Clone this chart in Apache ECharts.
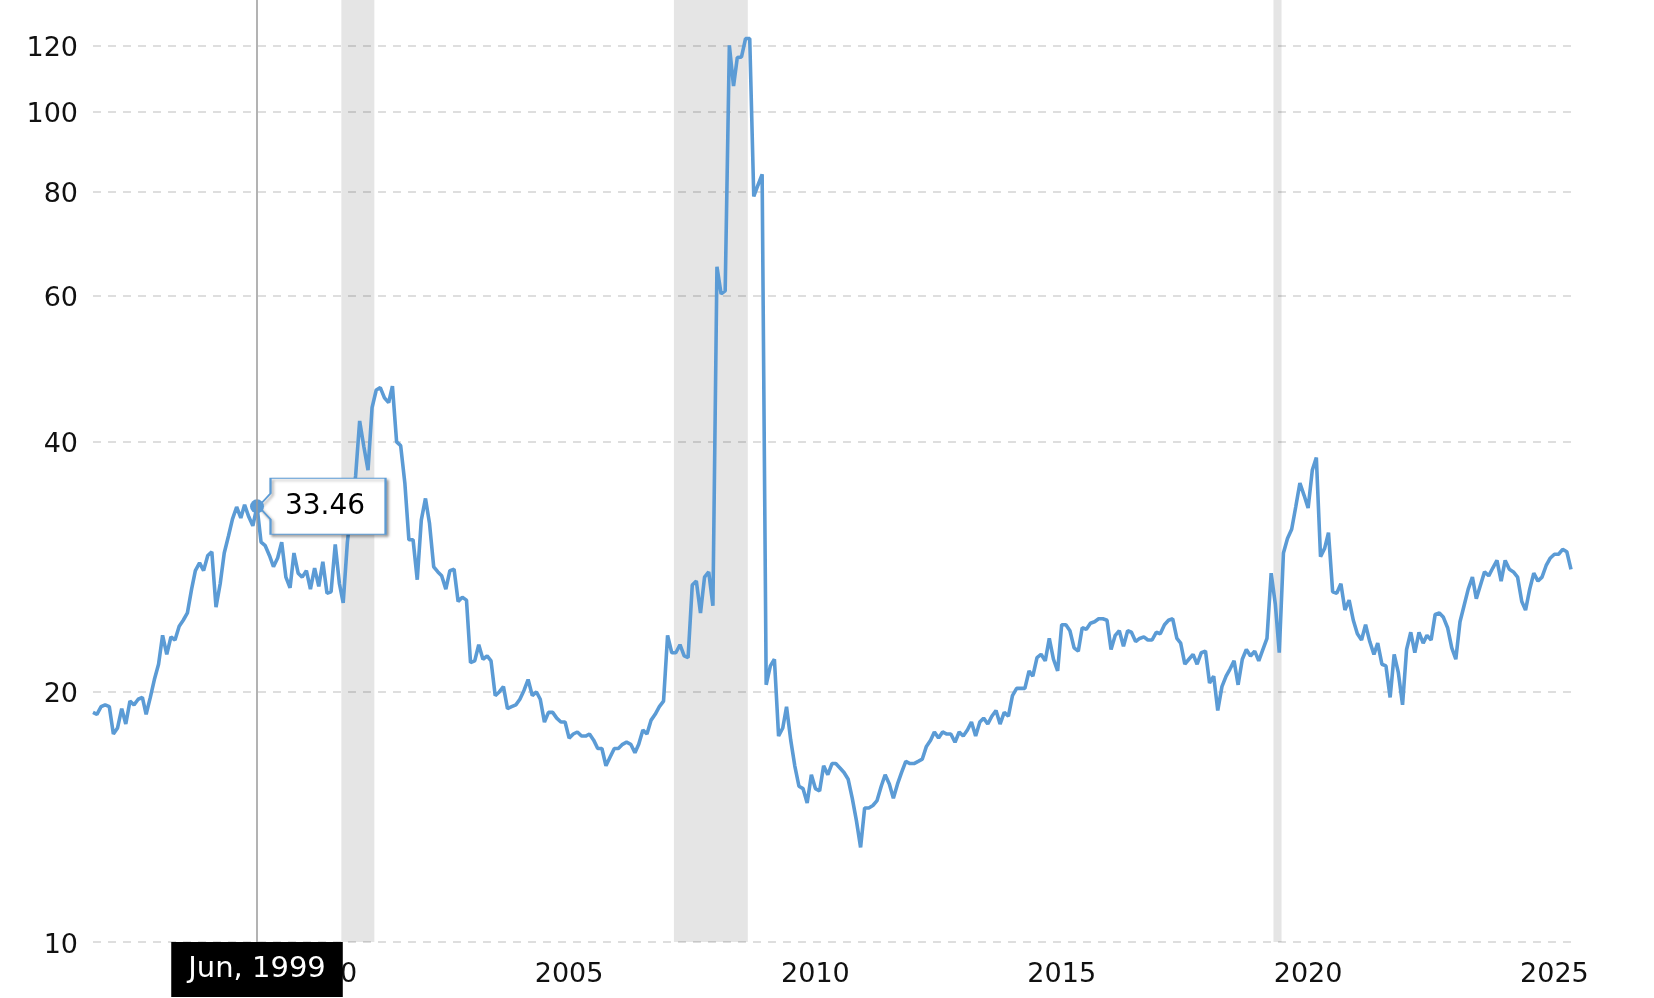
<!DOCTYPE html>
<html>
<head>
<meta charset="utf-8">
<script src="https://cdn.jsdelivr.net/npm/echarts@6/dist/echarts.min.js"></script>
<style>
html,body{margin:0;padding:0;background:#fff;}
#chart{width:1654px;height:998px;}
</style>
</head>
<body>
<div id="chart"></div>
<script>
// Monthly series, first point Feb 1996, last point Feb 2026
const startYear = 1996;
const startMonth = 2;
const peValues = [
  18.9,18.8,19.2,19.3,19.2,17.8,18.1,19.1,18.3,19.5,19.3,19.6,
  19.7,18.8,19.7,20.7,21.6,23.4,22.2,23.3,23.1,24.0,24.4,24.9,
  26.6,28.0,28.6,28.0,29.2,29.5,25.3,27.0,29.4,30.8,32.3,33.4,
  32.4,33.6,32.5,31.7,33.46,30.3,30.0,29.2,28.3,29.0,30.3,27.5,
  26.7,29.4,27.8,27.5,28.0,26.6,28.2,26.8,28.7,26.3,26.4,30.1,
  27.0,25.6,30.3,33.5,36.4,42.4,39.5,37.0,44.0,46.2,46.5,45.2,
  44.6,46.7,40.0,39.6,35.7,30.5,30.5,27.3,32.2,34.2,31.9,28.3,
  27.9,27.6,26.6,28.0,28.1,25.7,26.0,25.8,21.7,21.8,22.8,21.9,
  22.1,21.8,19.8,20.0,20.3,19.1,19.2,19.3,19.6,20.1,20.7,19.8,
  20.0,19.6,18.4,18.9,18.9,18.6,18.4,18.4,17.6,17.8,17.9,17.7,
  17.7,17.8,17.5,17.1,17.1,16.3,16.7,17.1,17.1,17.3,17.4,17.3,
  16.9,17.3,18.0,17.8,18.5,18.8,19.2,19.5,23.4,22.3,22.3,22.8,
  22.1,22.0,26.9,27.2,24.9,27.5,27.9,25.4,65.0,60.3,60.8,120.1,
  107.3,116.1,116.3,122.4,122.4,79.0,81.5,84.0,20.4,21.5,21.9,17.7,
  18.1,19.2,17.5,16.3,15.4,15.3,14.7,15.9,15.3,15.2,16.3,15.9,
  16.4,16.4,16.2,16.0,15.7,14.9,14.0,13.0,14.5,14.5,14.6,14.8,
  15.4,15.9,15.5,14.9,15.5,16.0,16.5,16.4,16.4,16.5,16.6,17.2,
  17.5,17.9,17.6,17.9,17.8,17.8,17.4,17.9,17.7,18.0,18.4,17.7,
  18.4,18.6,18.3,18.7,19.0,18.3,18.9,18.7,19.8,20.2,20.2,20.2,
  21.2,20.9,22.0,22.2,21.8,23.2,21.9,21.2,24.1,24.1,23.7,22.6,
  22.4,23.9,23.8,24.2,24.3,24.5,24.5,24.4,22.5,23.4,23.7,22.7,
  23.7,23.6,23.0,23.2,23.3,23.1,23.1,23.6,23.5,24.1,24.4,24.5,
  23.2,22.9,21.6,21.9,22.2,21.6,22.3,22.4,20.5,20.9,19.0,20.3,
  20.9,21.3,21.8,20.4,21.9,22.5,22.1,22.4,21.8,22.5,23.2,27.8,
  25.5,22.3,29.4,30.6,31.4,33.4,35.7,34.5,33.3,37.0,38.3,29.1,
  29.8,31.1,26.4,26.3,27.0,25.1,25.8,24.4,23.5,23.1,24.1,23.0,
  22.2,22.9,21.6,21.5,19.7,22.2,21.1,19.3,22.5,23.6,22.3,23.6,
  22.9,23.4,23.1,24.8,24.9,24.6,23.9,22.6,21.9,24.3,25.4,26.6,
  27.5,25.9,26.9,27.9,27.6,28.2,28.8,27.2,28.8,28.1,27.9,27.5,
  25.7,25.1,26.6,27.8,27.2,27.5,28.4,29.0,29.3,29.3,29.7,29.5,
  28.1
];
const yTicks = [10, 20, 40, 60, 80, 100, 120];
const yearLabels = [2000, 2005, 2010, 2015, 2020, 2025];
// recessions: [startYear, startMonth, endYear, endMonth]
const recessions = [
  [2001, 3, 2001, 11],
  [2007, 12, 2009, 6],
  [2020, 2, 2020, 4]
];
const highlightIndex = 40; // Jun, 1999
const monthNames = ['Jan','Feb','Mar','Apr','May','Jun','Jul','Aug','Sep','Oct','Nov','Dec'];

const dates = peValues.map(function (v, k) {
  const m = startMonth - 1 + k;
  return Date.UTC(startYear + Math.floor(m / 12), m % 12, 15);
});
const seriesData = dates.map(function (d, k) { return [d, peValues[k]]; });
const yearTickTimes = yearLabels.map(function (y) { return Date.UTC(y, 9, 15); });
const recessionAreas = recessions.map(function (r) {
  return [{ xAxis: Date.UTC(r[0], r[1] - 1, 1) }, { xAxis: Date.UTC(r[2], r[3] - 1, 1) }];
});

const FONT = 'DejaVu Sans';
const BLUE = '#5b9bd5';

const chart = echarts.init(document.getElementById('chart'), null, { renderer: 'canvas' });
chart.setOption({
  animation: false,
  backgroundColor: '#ffffff',
  textStyle: { fontFamily: FONT },
  grid: { left: 93, right: 83, top: 0, bottom: 56, containLabel: false, outerBoundsMode: 'none' },
  xAxis: {
    type: 'value',
    scale: true,
    min: dates[0],
    max: dates[dates.length - 1],
    axisLine: { show: false },
    axisTick: { show: false },
    splitLine: { show: false },
    axisLabel: {
      customValues: yearTickTimes,
      formatter: function (v) { return String(new Date(v).getUTCFullYear()); },
      fontSize: 27,
      fontFamily: FONT,
      color: '#111',
      margin: 19,
      hideOverlap: false
    },
    axisPointer: {
      show: true,
      type: 'line',
      snap: false,
      triggerTooltip: false,
      status: 'show',
      value: dates[highlightIndex],
      lineStyle: { color: '#9a9a9a', width: 1.5, type: 'solid' },
      label: {
        show: true,
        formatter: function (p) {
          const d = new Date(p.value);
          return monthNames[d.getUTCMonth()] + ', ' + d.getUTCFullYear();
        },
        backgroundColor: '#000',
        color: '#fff',
        fontSize: 29,
        fontFamily: FONT,
        padding: [13, 17, 13, 17],
        margin: 0,
        borderRadius: 0,
        shadowBlur: 0
      }
    }
  },
  yAxis: {
    type: 'log',
    logBase: 10,
    min: 10,
    max: 136.2,
    axisLine: { show: false },
    axisTick: { show: false, customValues: yTicks },
    axisLabel: {
      customValues: yTicks,
      formatter: function (v) { return '{v|' + v + '}'; },
      margin: 15,
      rich: {
        v: { fontSize: 27, fontFamily: FONT, color: '#111', padding: [7, 0, 0, 0] }
      }
    },
    splitLine: {
      show: true,
      lineStyle: { color: '#d4d4d4', width: 1.5, type: [8, 7] }
    }
  },
  series: [{
    type: 'line',
    data: seriesData,
    showSymbol: false,
    symbol: 'none',
    silent: true,
    lineStyle: { color: BLUE, width: 3.6 },
    itemStyle: { color: BLUE },
    markArea: {
      silent: true,
      itemStyle: { color: 'rgba(0,0,0,0.1)' },
      data: recessionAreas
    },
    markPoint: {
      silent: true,
      animation: false,
      data: [
        {
          coord: [dates[highlightIndex], peValues[highlightIndex]],
          value: peValues[highlightIndex],
          symbol: 'path://M0,28L12,15L12,0L127,0L127,56L12,56L12,41Z',
          symbolSize: [127, 56],
          symbolKeepAspect: false,
          symbolOffset: [65, 0],
          itemStyle: {
            color: '#ffffff',
            borderColor: BLUE,
            borderWidth: 1.5,
            shadowColor: 'rgba(0,0,0,0.35)',
            shadowBlur: 3,
            shadowOffsetX: 2,
            shadowOffsetY: 2
          },
          label: {
            show: true,
            position: 'inside',
            offset: [3, 0],
            formatter: function () { return peValues[highlightIndex].toFixed(2); },
            color: '#000',
            fontSize: 28,
            fontFamily: FONT
          }
        },
        {
          coord: [dates[highlightIndex], peValues[highlightIndex]],
          symbol: 'circle',
          symbolSize: 14,
          itemStyle: { color: BLUE },
          label: { show: false }
        }
      ]
    }
  }]
});
</script>
</body>
</html>
